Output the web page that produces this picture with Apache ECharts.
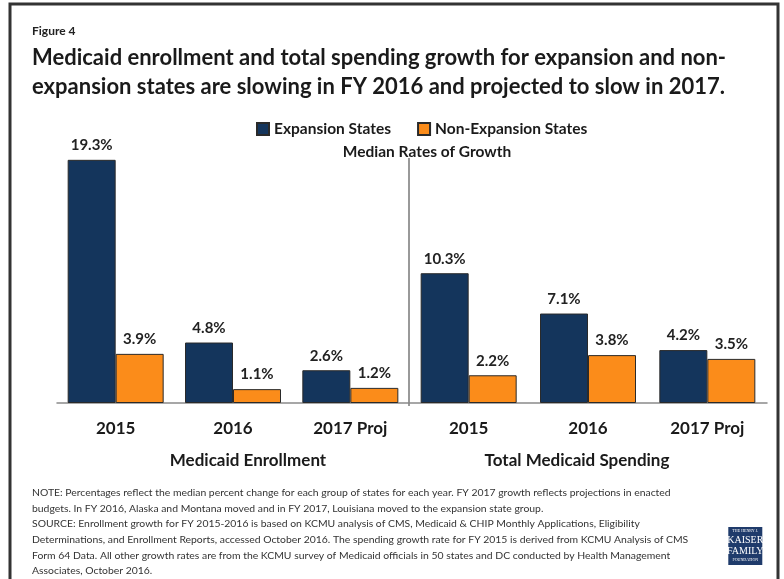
<!DOCTYPE html>
<html>
<head>
<meta charset="utf-8">
<script src="https://cdn.jsdelivr.net/npm/echarts@6/dist/echarts.min.js"></script>
<style>
  html, body { margin: 0; padding: 0; background: #fff; }
  #chart { width: 784px; height: 579px; }
</style>
</head>
<body>
<div id="chart"></div>
<script>
// data
var years = ['2015', '2016', '2017 Proj']
var enrollExpansion = [19.3, 4.8, 2.6]
var enrollNonExpansion = [3.9, 1.1, 1.2]
var spendExpansion = [10.3, 7.1, 4.2]
var spendNonExpansion = [2.2, 3.8, 3.5]

var navy = '#14355c'
var orange = '#fb8c1a'
var font = 'Lato'

var noteText = [
  'NOTE: Percentages reflect the median percent change for each group of states for each year. FY 2017 growth reflects projections in enacted',
  'budgets. In FY 2016, Alaska and Montana moved and in FY 2017, Louisiana moved to the expansion state group.',
  'SOURCE: Enrollment growth for FY 2015-2016 is based on KCMU analysis of CMS, Medicaid & CHIP Monthly Applications, Eligibility',
  'Determinations, and Enrollment Reports, accessed October 2016. The spending growth rate for FY 2015 is derived from KCMU Analysis of CMS',
  'Form 64 Data. All other growth rates are from the KCMU survey of Medicaid officials in 50 states and DC conducted by Health Management',
  'Associates, October 2016.'
].join('\n')

var chart = echarts.init(document.getElementById('chart'))

function barSeries(name, data, color, idx) {
  return {
    name: name,
    type: 'bar',
    xAxisIndex: idx,
    yAxisIndex: idx,
    data: data,
    barWidth: 48,
    barGap: '0%',
    itemStyle: { color: color, borderColor: '#2a2a2a', borderWidth: 1 },
    label: {
      show: true,
      position: 'top',
      distance: 7,
      formatter: '{c}%',
      fontFamily: font,
      fontWeight: 'bold',
      fontSize: 15,
      color: '#222'
    },
    animation: false
  }
}

function xAxisFor(idx) {
  return {
    type: 'category',
    gridIndex: idx,
    data: years,
    axisTick: { show: false },
    axisLine: { lineStyle: { color: '#8a8a8a', width: 1.5 } },
    axisLabel: {
      margin: 17,
      fontFamily: font,
      fontWeight: 'bold',
      fontSize: 17,
      color: '#1a1a1a'
    }
  }
}

function yAxisFor(idx) {
  return {
    type: 'value',
    gridIndex: idx,
    min: 0,
    max: 20,
    show: false
  }
}

chart.setOption({
  backgroundColor: '#fff',
  title: [
    {
      text: 'Figure 4',
      left: 27, top: 20,
      textStyle: { fontFamily: font, fontWeight: 'bold', fontSize: 12, color: '#222' }
    },
    {
      text: 'Medicaid enrollment and total spending growth for expansion and non-\nexpansion states are slowing in FY 2016 and projected to slow in 2017.',
      left: 27, top: 38,
      textStyle: { fontFamily: font, fontWeight: 'bold', fontSize: 22, lineHeight: 29, color: '#1a1a1a' }
    },
    {
      text: 'Median Rates of Growth',
      left: 422, top: 139, textAlign: 'center',
      textStyle: { fontFamily: font, fontWeight: 'bold', fontSize: 15.5, color: '#1a1a1a' }
    },
    {
      text: 'Medicaid Enrollment',
      left: 243, top: 447, textAlign: 'center',
      textStyle: { fontFamily: font, fontWeight: 'bold', fontSize: 17, color: '#1a1a1a' }
    },
    {
      text: 'Total Medicaid Spending',
      left: 572, top: 447, textAlign: 'center',
      textStyle: { fontFamily: font, fontWeight: 'bold', fontSize: 17, color: '#1a1a1a' }
    },
    {
      text: noteText,
      left: 27, top: 480,
      textStyle: { fontFamily: font, fontWeight: 'normal', fontSize: 10.4, lineHeight: 15.6, color: '#333' }
    }
  ],
  legend: {
    top: 116,
    left: 251,
    itemWidth: 12,
    itemHeight: 12,
    itemGap: 26,
    icon: 'rect',
    textStyle: { fontFamily: font, fontWeight: 'bold', fontSize: 15.5, color: '#1a1a1a' },
    data: ['Expansion States', 'Non-Expansion States']
  },
  grid: [
    { left: 57, width: 352, top: 151, bottom: 176 },
    { left: 409, right: 17, top: 151, bottom: 176 }
  ],
  xAxis: [xAxisFor(0), xAxisFor(1)],
  yAxis: [yAxisFor(0), yAxisFor(1)],
  series: [
    barSeries('Expansion States', enrollExpansion, navy, 0),
    barSeries('Non-Expansion States', enrollNonExpansion, orange, 0),
    barSeries('Expansion States', spendExpansion, navy, 1),
    barSeries('Non-Expansion States', spendNonExpansion, orange, 1)
  ],
  graphic: [
    {
      type: 'polyline',
      shape: { points: [[10, 600], [10, 4], [778, 4], [778, 600]] },
      style: { stroke: '#333', lineWidth: 3, fill: null }
    },
    {
      type: 'line',
      shape: { x1: 409, y1: 158, x2: 409, y2: 406 },
      style: { stroke: '#777', lineWidth: 1.5 }
    },
    {
      type: 'group',
      left: 727, top: 527,
      children: [
        { type: 'rect', shape: { x: 0, y: 0, width: 34, height: 38 }, style: { fill: '#1f3b6b' } },
        { type: 'text', x: 17, y: 2, style: { text: 'THE HENRY J.', fill: '#fff', fontSize: 4, fontFamily: 'Liberation Serif', align: 'center' } },
        { type: 'text', x: 17, y: 8, style: { text: 'KAISER', fill: '#fff', fontSize: 10, fontFamily: 'Liberation Serif', align: 'center' } },
        { type: 'text', x: 17, y: 19, style: { text: 'FAMILY', fill: '#fff', fontSize: 10, fontFamily: 'Liberation Serif', align: 'center' } },
        { type: 'text', x: 17, y: 31, style: { text: 'FOUNDATION', fill: '#fff', fontSize: 4, fontFamily: 'Liberation Serif', align: 'center' } }
      ]
    }
  ]
})
</script>
</body>
</html>
